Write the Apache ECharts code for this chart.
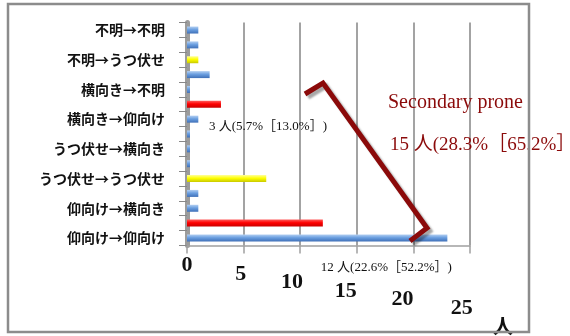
<!DOCTYPE html>
<html><head><meta charset="utf-8">
<script src="https://cdn.jsdelivr.net/npm/echarts@6/dist/echarts.min.js"></script>
<style>html,body{margin:0;padding:0;background:#fff}#c{width:570px;height:336px}</style>
</head><body><div id="c"></div>
<script>
// categories listed bottom -> top
const categories = ['仰向け→仰向け','仰向け→うつ伏せ','仰向け→横向き','仰向け→不明','うつ伏せ→うつ伏せ','うつ伏せ→仰向け','うつ伏せ→横向き','うつ伏せ→不明','横向き→仰向け','横向き→うつ伏せ','横向き→不明','横向き→横向き','不明→うつ伏せ','不明→仰向け','不明→不明'];
const counts = [23, 12, 1, 1, 7, 0, 0, 0, 1, 3, 0, 2, 1, 1, 1];
const groups = ['other','prone2','other','other','prone','other','other','other','other','prone2','other','other','prone','other','other'];
const annotations = {1: '12 人(22.6%［52.2%］)', 9: '3 人(5.7%［13.0%］)'};
const tickValues = ['0', '5', '10', '15', '20', '25'];
const unitLabel = '人';
const noteTitle = 'Secondary prone';
const noteValue = '15 人(28.3%［65.2%］)';

const grad = (a, b, c) => new echarts.graphic.LinearGradient(0, 0, 0, 1, [
  {offset: 0, color: a}, {offset: 0.45, color: b}, {offset: 1, color: c}]);
const colors = {
  other: grad('#b4d0f2', '#6b9fe0', '#3f70b8'),
  prone2: grad('#ff5a5a', '#ff0000', '#c80000'),
  prone: grad('#ffff9a', '#ffff00', '#c8c800')
};
// perspective-like stagger of the value tick labels: [lines pushed down, trailing spaces]
const tickStagger = {'0': [0, 0], '5': [1, 1], '10': [2, 3], '15': [3, 4], '20': [4, 4], '25': [5, 3]};
const tickLabel = v => {
  const s = tickStagger[v] || [0, 0];
  return '\n'.repeat(s[0]) + v + ' '.repeat(s[1]);
};

const barData = counts.map((v, i) => {
  const d = {value: v, itemStyle: {color: colors[groups[i]]}};
  if (annotations[i]) {
    d.label = {show: true, position: 'right', distance: 0,
      offset: i === 9 ? [-12, 22] : [-2, 44],
      formatter: annotations[i], fontSize: 13, color: '#111',
      fontFamily: '"Liberation Serif", "Noto Sans CJK JP", serif'};
  }
  return d;
});

const chart = echarts.init(document.getElementById('c'), null, {renderer: 'canvas'});
chart.setOption({
  animation: false,
  grid: {left: 187, right: 100, top: 22.6, bottom: 90.6},
  xAxis: [
    {type: 'value', min: 0, max: 25, interval: 5, show: false},
    {type: 'category', data: tickValues, boundaryGap: false, position: 'bottom',
      axisLine: {show: true, lineStyle: {color: '#a0a0a0', width: 1.5}},
      axisTick: {show: true, interval: 0, length: 8, lineStyle: {color: '#a0a0a0', width: 1.5}},
      splitLine: {show: true, interval: 0, lineStyle: {color: '#a3a3a3', width: 2}},
      axisLabel: {interval: 0, margin: 16, formatter: tickLabel, fontSize: 22, lineHeight: 8.5, fontWeight: 'bold',
        color: '#111', fontFamily: '"Liberation Serif", "DejaVu Serif", serif'}}
  ],
  yAxis: {type: 'category', data: categories,
    axisLine: {show: true, lineStyle: {color: '#9c9c9c', width: 5}},
    axisTick: {show: true, interval: 0, length: 8, lineStyle: {color: '#888'}},
    axisLabel: {interval: 1, margin: 22, fontSize: 14, fontWeight: 'bold', color: '#111',
      fontFamily: '"Noto Sans CJK JP", sans-serif'}},
  series: [
    {type: 'bar', xAxisIndex: 0, yAxisIndex: 0, data: barData, barWidth: 7, barMinHeight: 3, z: 5}
  ],
  graphic: [
    {type: 'rect', shape: {x: 8, y: 4, width: 521, height: 328},
      style: {fill: 'transparent', stroke: '#8c8c8c', lineWidth: 2.5}, z: 100},
    {type: 'polyline', shape: {points: [[305, 94], [323, 83], [427, 228], [410, 241]]},
      style: {stroke: '#8b0a0a', lineWidth: 5, fill: 'none', lineJoin: 'miter',
        shadowColor: 'rgba(0,0,0,0.35)', shadowOffsetX: 3, shadowOffsetY: 3, shadowBlur: 2}, z: 10},
    {type: 'text', left: 388, top: 93, z: 10,
      style: {text: noteTitle, fontSize: 20, fill: '#8b0a0a', fontFamily: '"Liberation Serif", serif'}},
    {type: 'text', left: 390, top: 136, z: 10,
      style: {text: noteValue, fontSize: 19, fill: '#8b0a0a', fontFamily: '"Liberation Serif", "Noto Sans CJK JP", serif'}},
    {type: 'text', left: 493, top: 316, z: 10,
      style: {text: unitLabel, fontSize: 20, fontWeight: 'bold', fill: '#111', fontFamily: '"Noto Sans CJK JP", serif'}}
  ]
});
</script></body></html>
